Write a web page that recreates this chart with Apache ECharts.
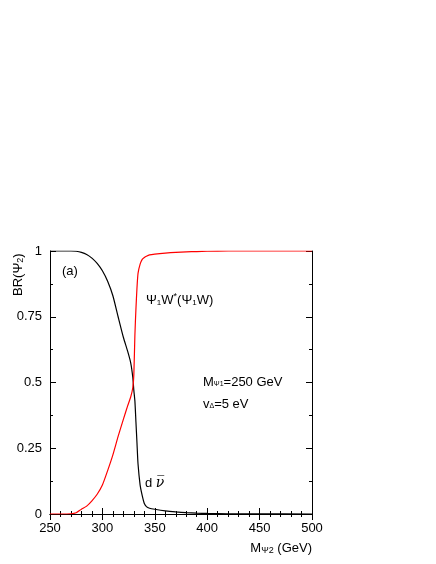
<!DOCTYPE html>
<html>
<head>
<meta charset="utf-8">
<script src="https://cdn.jsdelivr.net/npm/echarts@6/dist/echarts.min.js"></script>
<style>
  html, body { margin: 0; padding: 0; background: #fff; }
  #chart { width: 436px; height: 564px; }
</style>
</head>
<body>
<div id="chart"></div>
<script>
// M_psi2 in GeV
const mass = [250, 260, 270, 275, 280, 285, 290, 295, 300, 305, 310, 315, 320, 324, 327, 329, 330, 331, 332, 333, 334, 336, 338, 340, 342, 345, 350, 360, 370, 380, 390, 400, 420, 450, 500];
// BR(psi2 -> d nubar)
const brDnu = [1, 1, 1, 0.999, 0.995, 0.987, 0.973, 0.953, 0.925, 0.885, 0.83, 0.75, 0.672, 0.62, 0.575, 0.52, 0.47, 0.43, 0.35, 0.27, 0.19, 0.11, 0.07, 0.04, 0.028, 0.022, 0.018, 0.012, 0.008, 0.005, 0.003, 0.002, 0.001, 0.0005, 0];
// BR(psi2 -> psi1 W* (psi1 W))
const brPsiW = [0, 0, 0.001, 0.005, 0.018, 0.03, 0.05, 0.075, 0.11, 0.165, 0.225, 0.295, 0.36, 0.41, 0.445, 0.48, 0.53, 0.68, 0.78, 0.86, 0.915, 0.95, 0.968, 0.975, 0.98, 0.985, 0.988, 0.992, 0.995, 0.997, 0.998, 0.999, 1, 1, 1];
const yTicks = { 0: '0', 0.25: '0.25', 0.5: '0.5', 0.75: '0.75', 1: '1' };

const FONT = 'Liberation Sans, Arial, sans-serif';
const chart = echarts.init(document.getElementById('chart'));

const pairs = (ys) => mass.map((m, i) => [m, ys[i]]);

const baseX = {
    type: 'value', min: 250, max: 500, interval: 50,
    axisLine: { lineStyle: { color: '#000', width: 1 } },
    axisTick: { inside: true, length: 6, lineStyle: { color: '#000' } },
    minorTick: { show: true, splitNumber: 5, length: 3, lineStyle: { color: '#000' } },
    splitLine: { show: false }
};
const baseY = {
    type: 'value', min: 0, max: 1, interval: 0.25,
    axisLine: { show: true, lineStyle: { color: '#000', width: 1 } },
    axisTick: { inside: true, length: 6, lineStyle: { color: '#000' } },
    minorTick: { show: true, splitNumber: 2, length: 3, lineStyle: { color: '#000' } },
    splitLine: { show: false }
};

const option = {
    backgroundColor: '#fff',
    animation: false,
    grid: { left: 50, right: 124, top: 251, bottom: 50 },
    xAxis: [
        Object.assign({}, baseX, {
            position: 'bottom',
            axisLabel: { color: '#000', fontSize: 13, fontFamily: FONT, margin: 8 }
        }),
        Object.assign({}, baseX, { position: 'top', axisLabel: { show: false } })
    ],
    yAxis: [
        Object.assign({}, baseY, {
            position: 'left',
            axisLabel: { color: '#000', fontSize: 13, fontFamily: FONT, margin: 8,
                formatter: (v) => yTicks[v] !== undefined ? yTicks[v] : '' }
        }),
        Object.assign({}, baseY, { position: 'right', axisLabel: { show: false } })
    ],
    series: [
        {
            type: 'line', data: pairs(brDnu), showSymbol: false, smooth: 0.2,
            lineStyle: { color: '#000', width: 1.2 }
        },
        {
            type: 'line', data: pairs(brPsiW), showSymbol: false, smooth: 0.2,
            lineStyle: { color: '#ff0000', width: 1.2 }
        }
    ],
    graphic: [
        {
            type: 'text', x: 9, y: 296, rotation: Math.PI / 2,
            style: {
                text: '{a|BR(Ψ}{s|2}{a|)}', fill: '#000',
                rich: {
                    a: { fontSize: 13, fontFamily: FONT, lineHeight: 16, verticalAlign: 'bottom' },
                    s: { fontSize: 9, fontFamily: FONT, lineHeight: 16, verticalAlign: 'bottom', padding: [6, 0, 0, 0] }
                }
            }
        },
        {
            type: 'text', x: 62, y: 265,
            style: { text: '(a)', fill: '#000', font: '13px ' + FONT }
        },
        {
            type: 'text', x: 146, y: 292,
            style: {
                text: '{a|Ψ}{s|1}{a|W}{p|*}{a|(Ψ}{s|1}{a|W)}', fill: '#000',
                rich: {
                    a: { fontSize: 13, fontFamily: FONT, lineHeight: 16 },
                    s: { fontSize: 8, fontFamily: FONT, lineHeight: 16, padding: [6, 0, 0, 0] },
                    p: { fontSize: 9, fontFamily: FONT, lineHeight: 16, padding: [0, 0, 6, 0] }
                }
            }
        },
        {
            type: 'text', x: 203, y: 374,
            style: {
                text: '{a|M}{s|Ψ1}{a|=250 GeV}', fill: '#000',
                rich: {
                    a: { fontSize: 13, fontFamily: FONT, lineHeight: 16 },
                    s: { fontSize: 7, fontFamily: FONT, lineHeight: 16, padding: [5, 0, 0, 0] }
                }
            }
        },
        {
            type: 'text', x: 203, y: 396,
            style: {
                text: '{a|v}{s|Δ}{a|=5 eV}', fill: '#000',
                rich: {
                    a: { fontSize: 13, fontFamily: FONT, lineHeight: 16 },
                    s: { fontSize: 7, fontFamily: FONT, lineHeight: 16, padding: [5, 0, 0, 0] }
                }
            }
        },
        {
            type: 'text', x: 145, y: 474,
            style: {
                text: '{a|d }{n|ν\u0305}', fill: '#000',
                rich: {
                    a: { fontSize: 13, fontFamily: FONT, lineHeight: 18 },
                    n: { fontSize: 14, fontFamily: 'DejaVu Serif', fontStyle: 'italic', lineHeight: 18 }
                }
            }
        },
        {
            type: 'text', x: 312, y: 540, style: {
                text: '{a|M}{s|Ψ2}{a| (GeV)}', fill: '#000', align: 'right',
                rich: {
                    a: { fontSize: 13, fontFamily: FONT, lineHeight: 16 },
                    s: { fontSize: 9, fontFamily: FONT, lineHeight: 16, padding: [5, 0, 0, 0] }
                }
            }
        }
    ]
};
chart.setOption(option);
</script>
</body>
</html>
